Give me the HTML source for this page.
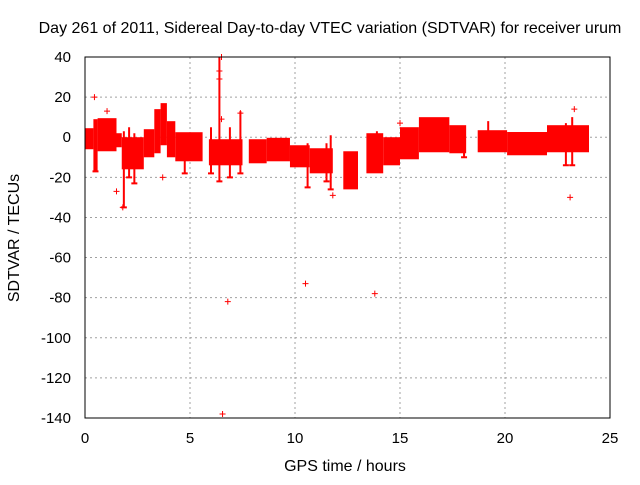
<!DOCTYPE html>
<html><head><meta charset="utf-8"><style>
body{margin:0;background:#fff;}
svg text{font-family:"Liberation Sans",sans-serif;font-size:15px;fill:#000;}
</style></head><body>
<svg id="c" width="640" height="480">
<text x="330" y="33" text-anchor="middle" style="font-size:16px">Day 261 of 2011, Sidereal Day-to-day VTEC variation (SDTVAR) for receiver urum</text>
<text x="345" y="471" text-anchor="middle" style="font-size:16px">GPS time / hours</text>
<text transform="translate(19,238) rotate(-90)" text-anchor="middle" style="font-size:16px">SDTVAR / TECUs</text>
<g id="grid"></g><g id="data"></g>
<rect x="85" y="57" width="525" height="361" fill="none" stroke="#000"/>
</svg>
<script>
const xTicks=[0,5,10,15,20,25];
const yTicks=[40,20,0,-20,-40,-60,-80,-100,-120,-140];
const segStart=[0,0.4,0.6,1.5,1.75,2.8,3.3,3.6,3.9,4.3,5.9,7.8,8.65,9.76,10.7,12.3,13.4,14.2,15.0,15.9,17.35,18.7,20.1,22.0];
const segEnd=[0.4,0.6,1.5,1.75,2.8,3.3,3.6,3.9,4.3,5.6,7.5,8.65,9.76,10.7,11.8,13.0,14.2,15.0,15.9,17.35,18.15,20.1,22.0,24.0];
const segLo=[-6,-17,-7,-5,-16,-10,-8,-4,-10,-12,-14,-13,-12,-15,-18,-26,-18,-14,-11,-7.5,-8,-7.5,-9,-7.5];
const segHi=[4.5,9,9.5,2,0,4,14,17,8,2.5,-1,-1,-0.3,-4,-5.5,-7,2,0,5,10,6,3.5,2.6,6];
const spikeX=[0.5,1.85,2.1,2.35,4.75,6.0,6.4,6.9,7.4,10.6,11.5,11.7,13.9,18.05,19.2,22.9,23.2];
const spikeLo=[-17,-35,-20,-23,-18,-18,-22,-20,-18,-25,-22,-26,-14,-10,-3,-14,-14];
const spikeHi=[8,3,5,2,2,5,40,5,13,-3,-3,1,3,4,8,7,10];
const outX=[0.45,1.5,1.8,3.7,6.4,6.4,6.5,6.55,6.8,10.5,11.8,13.8,15,23.1,23.3,6.5,7.4,1.05];
const outY=[20,-27,-35,-20,33,29,9,-138,-82,-73,-29,-78,7,-30,14,40,12,13];
const X=v=>85+v*21;
const Y=v=>57+(40-v)*(361/180);
const NS='http://www.w3.org/2000/svg';
const svg=document.getElementById('c'),g=document.getElementById('grid'),d=document.getElementById('data');
function mk(tag,at,par){const e=document.createElementNS(NS,tag);for(const k in at)e.setAttribute(k,at[k]);par.appendChild(e);return e;}
xTicks.forEach(t=>{
 const l=mk('line',{x1:X(t),x2:X(t),y1:57,y2:418,stroke:'#a0a0a0','stroke-dasharray':'2,3'},g);
 
 
 const tx=mk('text',{x:X(t),y:443,'text-anchor':'middle'},svg);tx.textContent=t;
 
 
});
yTicks.forEach(t=>{
 const l=mk('line',{x1:85,x2:610,y1:Y(t),y2:Y(t),stroke:'#a0a0a0','stroke-dasharray':'2,3'},g);
 
 
 const tx=mk('text',{x:71,y:Y(t)+5,'text-anchor':'end'},svg);tx.textContent=t;
 
 
});
segStart.forEach((s,i)=>{
 const r=mk('rect',{x:X(s),y:Y(segHi[i]),width:X(segEnd[i])-X(s),height:Y(segLo[i])-Y(segHi[i]),fill:'#ff0000'},d);
 
 
});
spikeX.forEach((x,i)=>{
 const p=mk('path',{d:`M${X(x)},${Y(spikeHi[i])}V${Y(spikeLo[i])}M${X(x)-3},${Y(spikeLo[i])}h6`,stroke:'#ff0000','stroke-width':2},d);
 
 
});
outX.forEach((x,i)=>{
 const p=mk('path',{d:`M${X(x)-3},${Y(outY[i])}h6M${X(x)},${Y(outY[i])-3}v6`,stroke:'#ff0000','stroke-width':1},d);
 
 
});
</script>
</body></html>
